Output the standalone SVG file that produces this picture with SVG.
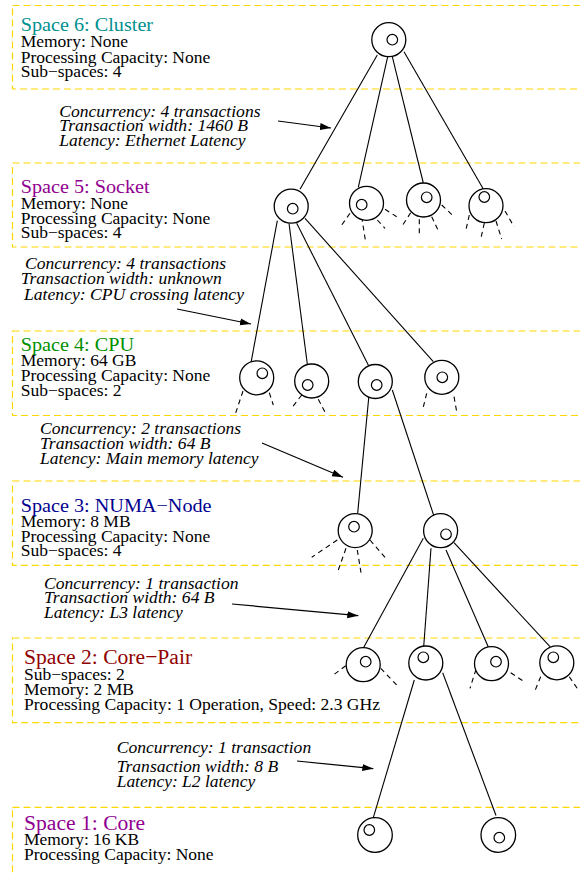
<svg xmlns="http://www.w3.org/2000/svg" width="580" height="874" viewBox="0 0 580 874">
  <style>
    .space { fill: none; stroke: #ffd700; stroke-width: 1.2; stroke-dasharray: 7 4; }
    text { font-family: "Liberation Serif", "Times New Roman", serif; }
    .title { font-size: 18.5px; }
    .title2 { font-size: 21.6px; }
    .body { font-size: 16px; fill: #000; }
    .link { font-size: 16px; font-style: italic; fill: #000; }
    .outer { fill: #fff; stroke: #000; stroke-width: 1.3; }
    .inner { fill: none; stroke: #000; stroke-width: 1.2; }
    .edge { stroke: #000; stroke-width: 1.1; fill: none; }
    .stub { stroke: #000; stroke-width: 1.1; fill: none; stroke-dasharray: 5 4; }
    .arrow { stroke: #000; stroke-width: 1.2; fill: none; marker-end: url(#head); }
  </style>
  <defs>
    <marker id="head" markerUnits="userSpaceOnUse" markerWidth="12" markerHeight="8" refX="11" refY="3.5" orient="auto">
      <path d="M0,0 L11,3.5 L0,7 z" fill="#000"/>
    </marker>
  </defs>

  <!-- space boundaries -->
  <g id="spaces">
    <rect class="space" x="12.5" y="5.5" width="620" height="83.5"/>
    <rect class="space" x="12.5" y="163" width="620" height="84"/>
    <rect class="space" x="12.5" y="331" width="620" height="84.5"/>
    <rect class="space" x="12.5" y="481" width="620" height="84.3"/>
    <rect class="space" x="12.5" y="638" width="620" height="84.7"/>
    <rect class="space" x="12.5" y="807.3" width="620" height="100"/>
  </g>

  <!-- space descriptions -->
  <g id="space6-label">
    <text class="title" x="20.7" y="31" fill="#009090" textLength="132.4" lengthAdjust="spacingAndGlyphs">Space 6: Cluster</text>
    <text class="body" x="20.7" y="46.7" textLength="107.4" lengthAdjust="spacingAndGlyphs">Memory: None</text>
    <text class="body" x="20.7" y="62.5" textLength="189.6" lengthAdjust="spacingAndGlyphs">Processing Capacity: None</text>
    <text class="body" x="20.7" y="77" textLength="100.8" lengthAdjust="spacingAndGlyphs">Sub−spaces: 4</text>
  </g>
  <g id="space5-label">
    <text class="title" x="20.7" y="192.7" fill="#900090" textLength="129" lengthAdjust="spacingAndGlyphs">Space 5: Socket</text>
    <text class="body" x="20.7" y="208.5" textLength="107.4" lengthAdjust="spacingAndGlyphs">Memory: None</text>
    <text class="body" x="20.7" y="223.5" textLength="189.6" lengthAdjust="spacingAndGlyphs">Processing Capacity: None</text>
    <text class="body" x="20.7" y="238.3" textLength="100.8" lengthAdjust="spacingAndGlyphs">Sub−spaces: 4</text>
  </g>
  <g id="space4-label">
    <text class="title" x="20.7" y="350.7" fill="#009000" textLength="113.3" lengthAdjust="spacingAndGlyphs">Space 4: CPU</text>
    <text class="body" x="20.7" y="365.5" textLength="115.7" lengthAdjust="spacingAndGlyphs">Memory: 64 GB</text>
    <text class="body" x="20.7" y="380.5" textLength="189.6" lengthAdjust="spacingAndGlyphs">Processing Capacity: None</text>
    <text class="body" x="20.7" y="396" textLength="100.8" lengthAdjust="spacingAndGlyphs">Sub−spaces: 2</text>
  </g>
  <g id="space3-label">
    <text class="title" x="20.7" y="511.7" fill="#000090" textLength="190.9" lengthAdjust="spacingAndGlyphs">Space 3: NUMA−Node</text>
    <text class="body" x="20.7" y="526.7" textLength="109.9" lengthAdjust="spacingAndGlyphs">Memory: 8 MB</text>
    <text class="body" x="20.7" y="541.7" textLength="189.6" lengthAdjust="spacingAndGlyphs">Processing Capacity: None</text>
    <text class="body" x="20.7" y="556" textLength="100.8" lengthAdjust="spacingAndGlyphs">Sub−spaces: 4</text>
  </g>
  <g id="space2-label">
    <text class="title2" x="24" y="664.3" fill="#900000">Space 2: Core−Pair</text>
    <text class="body" x="24" y="680" textLength="100.8" lengthAdjust="spacingAndGlyphs">Sub−spaces: 2</text>
    <text class="body" x="24" y="695" textLength="109.9" lengthAdjust="spacingAndGlyphs">Memory: 2 MB</text>
    <text class="body" x="24" y="710" textLength="356" lengthAdjust="spacingAndGlyphs">Processing Capacity: 1 Operation, Speed: 2.3 GHz</text>
  </g>
  <g id="space1-label">
    <text class="title2" x="24" y="830" fill="#900090">Space 1: Core</text>
    <text class="body" x="24" y="845" textLength="115" lengthAdjust="spacingAndGlyphs">Memory: 16 KB</text>
    <text class="body" x="24" y="860" textLength="189.6" lengthAdjust="spacingAndGlyphs">Processing Capacity: None</text>
  </g>

  <!-- link properties between levels -->
  <g id="link6-5">
    <text class="link" x="59.3" y="116.7" textLength="201.2" lengthAdjust="spacingAndGlyphs">Concurrency: 4 transactions</text>
    <text class="link" x="59.3" y="131.3" textLength="188.6" lengthAdjust="spacingAndGlyphs">Transaction width: 1460 B</text>
    <text class="link" x="59.3" y="145.7" textLength="186.2" lengthAdjust="spacingAndGlyphs">Latency: Ethernet Latency</text>
  </g>
  <g id="link5-4">
    <text class="link" x="25" y="269" textLength="201.2" lengthAdjust="spacingAndGlyphs">Concurrency: 4 transactions</text>
    <text class="link" x="20.7" y="284.3" textLength="201.2" lengthAdjust="spacingAndGlyphs">Transaction width: unknown</text>
    <text class="link" x="24" y="300" textLength="220" lengthAdjust="spacingAndGlyphs">Latency: CPU crossing latency</text>
  </g>
  <g id="link4-3">
    <text class="link" x="40" y="434.3" textLength="201" lengthAdjust="spacingAndGlyphs">Concurrency: 2 transactions</text>
    <text class="link" x="40" y="449" textLength="170.6" lengthAdjust="spacingAndGlyphs">Transaction width: 64 B</text>
    <text class="link" x="40" y="464.3" textLength="218.5" lengthAdjust="spacingAndGlyphs">Latency: Main memory latency</text>
  </g>
  <g id="link3-2">
    <text class="link" x="44" y="589" textLength="194.5" lengthAdjust="spacingAndGlyphs">Concurrency: 1 transaction</text>
    <text class="link" x="44" y="603.3" textLength="170.6" lengthAdjust="spacingAndGlyphs">Transaction width: 64 B</text>
    <text class="link" x="44" y="617.7" textLength="138.8" lengthAdjust="spacingAndGlyphs">Latency: L3 latency</text>
  </g>
  <g id="link2-1">
    <text class="link" x="116.7" y="753.3" textLength="194.5" lengthAdjust="spacingAndGlyphs">Concurrency: 1 transaction</text>
    <text class="link" x="116.7" y="772" textLength="161.5" lengthAdjust="spacingAndGlyphs">Transaction width: 8 B</text>
    <text class="link" x="116.7" y="786.7" textLength="138.6" lengthAdjust="spacingAndGlyphs">Latency: L2 latency</text>
  </g>

  <!-- connectors -->
  <g id="connectors">
    <!-- cluster to sockets -->
    <line class="edge" x1="377.3" y1="55" x2="300" y2="189.3"/>
    <line class="edge" x1="387.7" y1="56.7" x2="358.3" y2="187.3"/>
    <line class="edge" x1="392.3" y1="56.7" x2="423.3" y2="183"/>
    <line class="edge" x1="404" y1="51.7" x2="483.3" y2="189"/>
    <!-- socket to CPUs -->
    <line class="edge" x1="277.3" y1="220.7" x2="251" y2="362.7"/>
    <line class="edge" x1="289" y1="223.3" x2="307.3" y2="364"/>
    <line class="edge" x1="296.7" y1="223.3" x2="368.3" y2="365"/>
    <line class="edge" x1="305" y1="218.3" x2="433.3" y2="361.7"/>
    <!-- CPU to NUMA nodes -->
    <line class="edge" x1="369.3" y1="391.7" x2="357.7" y2="513"/>
    <line class="edge" x1="392.3" y1="390" x2="435" y2="519.3"/>
    <!-- NUMA node to core pairs -->
    <line class="edge" x1="423.3" y1="538.3" x2="362.7" y2="649.3"/>
    <line class="edge" x1="431" y1="548.3" x2="423.3" y2="652"/>
    <line class="edge" x1="446" y1="550" x2="488.3" y2="647"/>
    <line class="edge" x1="454" y1="542.7" x2="550" y2="646.7"/>
    <!-- core pair to cores -->
    <line class="edge" x1="414.3" y1="680" x2="373.3" y2="817.7"/>
    <line class="edge" x1="442.7" y1="672.7" x2="496" y2="815.5"/>

    <!-- collapsed children (dashed) -->
    <line class="stub" x1="350" y1="213.3" x2="341.7" y2="225"/>
    <line class="stub" x1="361.7" y1="216.7" x2="365.3" y2="240"/>
    <line class="stub" x1="377.3" y1="220" x2="385" y2="228.3"/>
    <line class="stub" x1="385" y1="209.3" x2="396.7" y2="216.7"/>

    <line class="stub" x1="410.7" y1="212.7" x2="402.7" y2="225"/>
    <line class="stub" x1="419.3" y1="219.3" x2="419.3" y2="236"/>
    <line class="stub" x1="431.7" y1="216.7" x2="438.3" y2="230.7"/>
    <line class="stub" x1="441.7" y1="205" x2="453.3" y2="216"/>

    <line class="stub" x1="469.3" y1="215" x2="465.5" y2="231.7"/>
    <line class="stub" x1="484.3" y1="223" x2="480.7" y2="239.3"/>
    <line class="stub" x1="496" y1="221" x2="501.7" y2="239"/>
    <line class="stub" x1="505" y1="211" x2="514" y2="226.7"/>

    <line class="stub" x1="243" y1="391" x2="235" y2="415"/>
    <line class="stub" x1="269.3" y1="392.7" x2="273.3" y2="405"/>

    <line class="stub" x1="301.7" y1="395" x2="292.7" y2="406.7"/>
    <line class="stub" x1="318.3" y1="399.3" x2="326" y2="414"/>

    <line class="stub" x1="426.7" y1="393.3" x2="423.3" y2="407"/>
    <line class="stub" x1="454" y1="396.7" x2="456.7" y2="411.7"/>

    <line class="stub" x1="337.3" y1="540" x2="311.7" y2="557.3"/>
    <line class="stub" x1="346" y1="548.3" x2="338.3" y2="570"/>
    <line class="stub" x1="357.3" y1="550" x2="361" y2="572.7"/>
    <line class="stub" x1="370" y1="540" x2="385" y2="557.3"/>

    <line class="stub" x1="345.7" y1="665.7" x2="333.3" y2="675"/>
    <line class="stub" x1="380.7" y1="668.3" x2="396.7" y2="685"/>

    <line class="stub" x1="476" y1="669.3" x2="470" y2="688.3"/>
    <line class="stub" x1="510.7" y1="672.7" x2="522.7" y2="680.7"/>

    <line class="stub" x1="540.7" y1="676.7" x2="535" y2="690.7"/>
    <line class="stub" x1="569.3" y1="676.7" x2="578.3" y2="690"/>

    <!-- pointers from link properties to the level they describe -->
    <line class="arrow" x1="278" y1="121" x2="331" y2="128"/>
    <line class="arrow" x1="177" y1="309" x2="251" y2="324"/>
    <line class="arrow" x1="262" y1="443" x2="343" y2="477.3"/>
    <line class="arrow" x1="232" y1="604" x2="358.3" y2="615.7"/>
    <line class="arrow" x1="297" y1="761" x2="373.3" y2="768.7"/>
  </g>

  <!-- nodes -->
  <g id="cluster">
    <circle class="outer" cx="388.8" cy="39.7" r="17"/>
    <circle class="inner" cx="392.3" cy="39.7" r="5.3"/>
  </g>
  <g id="socket-1">
    <circle class="outer" cx="291.2" cy="206.2" r="17"/>
    <circle class="inner" cx="292.7" cy="208.7" r="5.3"/>
  </g>
  <g id="socket-2">
    <circle class="outer" cx="366.5" cy="203.3" r="17"/>
    <circle class="inner" cx="361.7" cy="204.7" r="5.3"/>
  </g>
  <g id="socket-3">
    <circle class="outer" cx="423.5" cy="200" r="17"/>
    <circle class="inner" cx="426.7" cy="197.3" r="5.3"/>
  </g>
  <g id="socket-4">
    <circle class="outer" cx="486" cy="205.7" r="17"/>
    <circle class="inner" cx="484.3" cy="197" r="5.3"/>
  </g>
  <g id="cpu-1">
    <circle class="outer" cx="256.7" cy="377.8" r="17"/>
    <circle class="inner" cx="262.3" cy="373.3" r="5.3"/>
  </g>
  <g id="cpu-2">
    <circle class="outer" cx="311.7" cy="381" r="17"/>
    <circle class="inner" cx="307.7" cy="385" r="5.3"/>
  </g>
  <g id="cpu-3">
    <circle class="outer" cx="375.3" cy="381.5" r="17"/>
    <circle class="inner" cx="376.7" cy="385" r="5.3"/>
  </g>
  <g id="cpu-4">
    <circle class="outer" cx="441.8" cy="377.3" r="17"/>
    <circle class="inner" cx="442.3" cy="377.3" r="5.3"/>
  </g>
  <g id="numa-1">
    <circle class="outer" cx="355.2" cy="530.6" r="17"/>
    <circle class="inner" cx="354" cy="526.7" r="5.3"/>
  </g>
  <g id="numa-2">
    <circle class="outer" cx="440.6" cy="530.7" r="17"/>
    <circle class="inner" cx="446" cy="534.3" r="5.3"/>
  </g>
  <g id="corepair-1">
    <circle class="outer" cx="363.2" cy="664.7" r="17"/>
    <circle class="inner" cx="365.7" cy="661.7" r="5.3"/>
  </g>
  <g id="corepair-2">
    <circle class="outer" cx="425.8" cy="663" r="17"/>
    <circle class="inner" cx="423.3" cy="657.3" r="5.3"/>
  </g>
  <g id="corepair-3">
    <circle class="outer" cx="491.5" cy="663.7" r="17"/>
    <circle class="inner" cx="496" cy="661.7" r="5.3"/>
  </g>
  <g id="corepair-4">
    <circle class="outer" cx="556.8" cy="662.8" r="17"/>
    <circle class="inner" cx="553.3" cy="657.3" r="5.3"/>
  </g>
  <g id="core-1">
    <circle class="outer" cx="375" cy="835" r="17.3"/>
    <circle class="inner" cx="369.3" cy="830" r="5.3"/>
  </g>
  <g id="core-2">
    <circle class="outer" cx="498.3" cy="835" r="17.3"/>
    <circle class="inner" cx="499.3" cy="837.7" r="5.3"/>
  </g>
</svg>
